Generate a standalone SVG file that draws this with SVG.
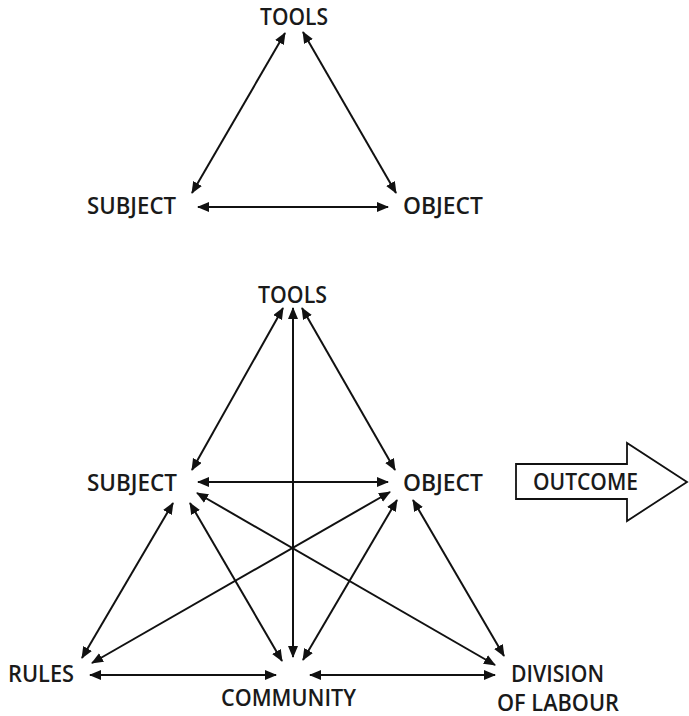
<svg xmlns="http://www.w3.org/2000/svg" width="689" height="716" viewBox="0 0 689 716">
<style>
  .lbl { font-family: "Open Sans", "Noto Sans", "Liberation Sans", sans-serif; font-size: 23px; font-weight: 600; fill: #1a1a1a; }
  .c line { stroke: #111; stroke-width: 2; fill: none; marker-start: url(#ah); marker-end: url(#ah); }
  .box { fill: #fff; stroke: #111; stroke-width: 1.8; stroke-linejoin: miter; }
</style>
<defs>
  <marker id="ah" markerUnits="userSpaceOnUse" markerWidth="13" markerHeight="11" refX="11" refY="5" orient="auto-start-reverse">
    <path d="M0,0 L12,5 L0,10 z" fill="#111"/>
  </marker>
</defs>
<rect width="689" height="716" fill="#fff"/>

<g id="connectors" class="c">
  <line x1="285" y1="33" x2="192" y2="193"/>
  <line x1="303" y1="32" x2="396" y2="193"/>
  <line x1="198" y1="207" x2="388" y2="207"/>

  <line x1="283" y1="308" x2="192" y2="470"/>
  <line x1="302" y1="308" x2="395" y2="470"/>
  <line x1="293" y1="308" x2="293" y2="657"/>
  <line x1="198" y1="482" x2="388" y2="482"/>
  <line x1="173" y1="503" x2="82" y2="658"/>
  <line x1="190" y1="503" x2="282" y2="661"/>
  <line x1="197" y1="493" x2="495" y2="665"/>
  <line x1="390" y1="492" x2="92" y2="663"/>
  <line x1="397" y1="500" x2="303" y2="660"/>
  <line x1="413" y1="500" x2="504" y2="656"/>
  <line x1="90" y1="675" x2="276" y2="675"/>
  <line x1="310" y1="675" x2="495" y2="675"/>
</g>

<g id="top-tools"><text class="lbl" x="260" y="25" textLength="68" lengthAdjust="spacingAndGlyphs">TOOLS</text></g>
<g id="top-subject"><text class="lbl" x="87" y="214" textLength="89" lengthAdjust="spacingAndGlyphs">SUBJECT</text></g>
<g id="top-object"><text class="lbl" x="403" y="214" textLength="80" lengthAdjust="spacingAndGlyphs">OBJECT</text></g>

<g id="tools"><text class="lbl" x="258" y="303" textLength="69" lengthAdjust="spacingAndGlyphs">TOOLS</text></g>
<g id="subject"><text class="lbl" x="87" y="491" textLength="90" lengthAdjust="spacingAndGlyphs">SUBJECT</text></g>
<g id="object"><text class="lbl" x="403" y="491" textLength="80" lengthAdjust="spacingAndGlyphs">OBJECT</text></g>
<g id="rules"><text class="lbl" x="8" y="682" textLength="66" lengthAdjust="spacingAndGlyphs">RULES</text></g>
<g id="community"><text class="lbl" x="221" y="706" textLength="135" lengthAdjust="spacingAndGlyphs">COMMUNITY</text></g>
<g id="division"><text class="lbl" x="511" y="682" textLength="93" lengthAdjust="spacingAndGlyphs">DIVISION</text><text class="lbl" x="497" y="711" textLength="122" lengthAdjust="spacingAndGlyphs">OF LABOUR</text></g>

<g id="outcome">
  <polygon class="box" points="516,464 627,464 627,443 687,482 627,521 627,499 516,499"/>
  <text class="lbl" x="533" y="490" textLength="105" lengthAdjust="spacingAndGlyphs">OUTCOME</text>
</g>
</svg>
